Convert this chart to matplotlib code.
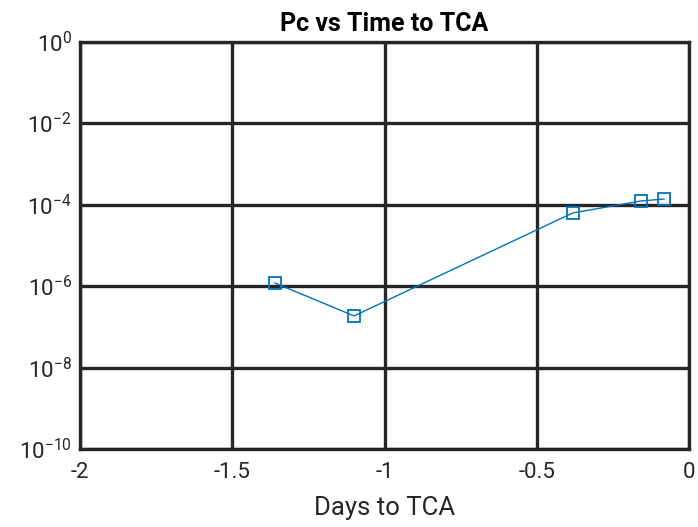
import math

import matplotlib
matplotlib.use("Agg")
import matplotlib.pyplot as plt
from matplotlib.ticker import FuncFormatter

# data
days_to_tca = [-1.36, -1.10, -0.382, -0.158, -0.082]
pc = [1.2e-6, 1.86e-7, 6.3e-5, 1.24e-4, 1.39e-4]
x_ticks = [-2, -1.5, -1, -0.5, 0]
x_tick_labels = ["-2", "-1.5", "-1", "-0.5", "0"]
y_ticks = [1e-10, 1e-8, 1e-6, 1e-4, 1e-2, 1e0]

plt.rcParams["font.family"] = ["Roboto", "DejaVu Sans"]
plt.rcParams["mathtext.fontset"] = "custom"
plt.rcParams["mathtext.rm"] = "Roboto"
plt.rcParams["mathtext.it"] = "Roboto"

fig = plt.figure(figsize=(6.98, 5.27), dpi=100)
ax = fig.add_axes([80 / 698, 1 - 449 / 527, 609 / 698, 407 / 527])

ax.plot(days_to_tca, pc, "-s", color="#0072BD", linewidth=1,
        markersize=9, markerfacecolor="none", markeredgewidth=1.3)

ax.set_yscale("log")
ax.set_xlim(-2, 0)
ax.set_ylim(1e-10, 1e0)
ax.set_xticks(x_ticks)
ax.set_xticklabels(x_tick_labels)
ax.set_yticks(y_ticks)
ax.yaxis.set_major_formatter(
    FuncFormatter(lambda v, p: r"$10^{%d}$" % round(math.log10(v))))
ax.minorticks_off()

ax.grid(True, color="#262626", linewidth=2.4, alpha=1)
ax.set_axisbelow(True)
for s in ax.spines.values():
    s.set_linewidth(2.4)
    s.set_color("#262626")
ax.tick_params(direction="in", length=0, labelsize=16, colors="#262626")
ax.tick_params(axis="x", pad=9)
ax.tick_params(axis="y", pad=6)

ax.set_title("Pc vs Time to TCA", fontsize=18, fontweight="bold",
             color="black", pad=8)
ax.set_xlabel("Days to TCA", fontsize=18.5, color="#262626", labelpad=10)

fig.savefig("out.png", dpi=100)
